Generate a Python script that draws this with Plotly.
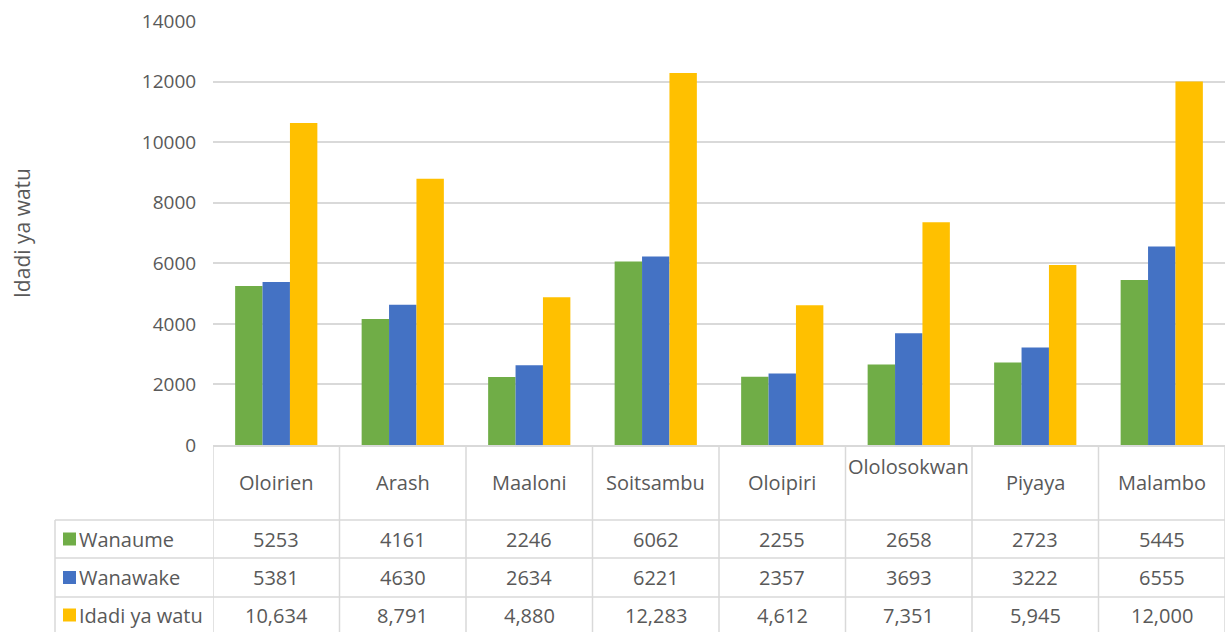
import plotly.graph_objects as go

categories = ["Oloirien", "Arash", "Maaloni", "Soitsambu", "Oloipiri", "Ololosokwan", "Piyaya", "Malambo"]
wanaume = [5253, 4161, 2246, 6062, 2255, 2658, 2723, 5445]
wanawake = [5381, 4630, 2634, 6221, 2357, 3693, 3222, 6555]
idadi = [10634, 8791, 4880, 12283, 4612, 7351, 5945, 12000]
series_names = ["Wanaume", "Wanawake", "Idadi ya watu"]
colors = ["#70AD47", "#4472C4", "#FFC000"]
y_title = "Idadi ya watu"
y_ticks = [0, 2000, 4000, 6000, 8000, 10000, 12000, 14000]

W, H = 1225, 632
L, R, T, B = 213, 1225, 21, 445   # plot area pixel bounds
FONT = "Open Sans"
TXT = "#595959"
GRID = "#D9D9D9"

def px(xp):
    return (xp - L) / (R - L)

def py(yp):
    return (B - yp) / (B - T)

fig = go.Figure()
for name, vals, col in zip(series_names, [wanaume, wanawake, idadi], colors):
    fig.add_trace(go.Bar(x=categories, y=vals, name=name, marker_color=col,
                         marker_line_width=0, hoverinfo="x+y+name"))

shapes = []
ann = []
line = dict(color=GRID, width=1.5)
# Table horizontal lines
row_y = [520, 558, 597]
for yy in row_y:
    shapes.append(dict(type="line", xref="paper", yref="paper", x0=px(55), x1=px(R),
                       y0=py(yy), y1=py(yy), line=line))
# table vertical lines at category boundaries
n = len(categories)
for i in range(n + 1):
    shapes.append(dict(type="line", xref="x", yref="paper", x0=i - 0.5, x1=i - 0.5,
                       y0=py(B), y1=py(H + 5), line=line))
# left border of the series label column
shapes.append(dict(type="line", xref="paper", yref="paper", x0=px(55), x1=px(55),
                   y0=py(520), y1=py(H + 5), line=line))

TS = 20
# header labels
for i, c in enumerate(categories):
    yy = 466 if c == "Ololosokwan" else 482
    ann.append(dict(x=i, y=py(yy), xref="x", yref="paper", text=c, showarrow=False,
                    font=dict(family=FONT, size=TS, color=TXT), xanchor="center", yanchor="middle"))

# rows
row_centers = [539, 577.5, 615]
for r, (name, vals, col) in enumerate(zip(series_names, [wanaume, wanawake, idadi], colors)):
    yc = row_centers[r]
    shapes.append(dict(type="rect", xref="paper", yref="paper", x0=px(63), x1=px(76),
                       y0=py(yc - 6.5), y1=py(yc + 6.5), fillcolor=col, line=dict(width=0)))
    ann.append(dict(x=px(77), y=py(yc), xref="paper", yref="paper", text=name, showarrow=False,
                    font=dict(family=FONT, size=TS, color=TXT), xanchor="left", yanchor="middle"))
    for i, v in enumerate(vals):
        t = f"{v:,}" if r == 2 else str(v)
        ann.append(dict(x=i, y=py(yc), xref="x", yref="paper", text=t, showarrow=False,
                        font=dict(family=FONT, size=TS, color=TXT), xanchor="center", yanchor="middle"))

# y axis title
ann.append(dict(x=px(22), y=py(233), xref="paper", yref="paper", text=y_title, textangle=-90,
                showarrow=False, font=dict(family=FONT, size=21, color=TXT),
                xanchor="center", yanchor="middle"))

fig.update_layout(
    width=W, height=H,
    margin=dict(l=L, r=W - R, t=T, b=H - B, autoexpand=False),
    paper_bgcolor="white", plot_bgcolor="white",
    barmode="group", bargap=0.35, bargroupgap=0,
    showlegend=False,
    shapes=shapes, annotations=ann,
    xaxis=dict(showticklabels=False, showline=True, linecolor=GRID, linewidth=1.5,
               range=[-0.5, n - 0.5], showgrid=False, ticks=""),
    yaxis=dict(range=[0, 14000], tickvals=y_ticks, ticktext=[str(v) for v in y_ticks],
               showgrid=True, gridcolor=GRID, gridwidth=1.5, zeroline=False, showline=False,
               ticks="outside", ticklen=12, tickcolor="rgba(0,0,0,0)",
               tickfont=dict(family=FONT, size=19, color=TXT)),
)

fig.write_html("out.html", config={"displayModeBar": False},
               post_script="document.body.style.margin='0';document.body.style.overflow='hidden';")
